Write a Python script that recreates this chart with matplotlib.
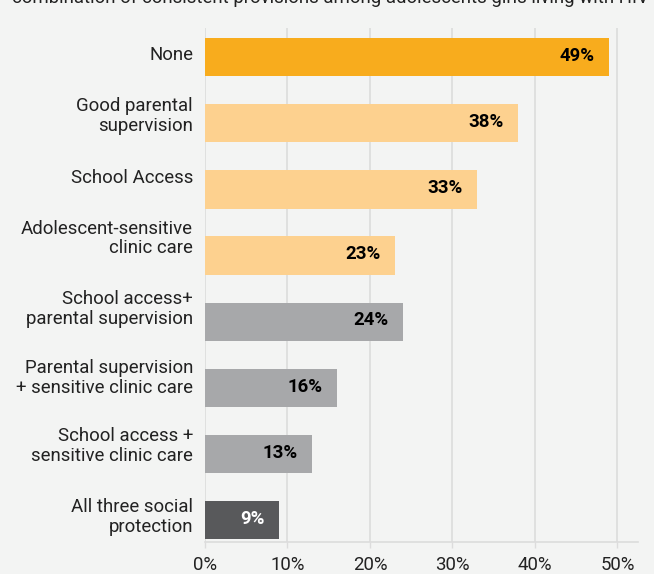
import matplotlib.pyplot as plt
from matplotlib.ticker import FuncFormatter
from matplotlib.transforms import offset_copy, blended_transform_factory

categories = [
    "None",
    "Good parental\nsupervision",
    "School Access",
    "Adolescent-sensitive\nclinic care",
    "School access+\nparental supervision",
    "Parental supervision\n+ sensitive clinic care",
    "School access +\nsensitive clinic care",
    "All three social\nprotection",
]
values = [49, 38, 33, 23, 24, 16, 13, 9]
groups = ["none", "single", "single", "single", "double", "double", "double", "triple"]
ticks = [0, 10, 20, 30, 40, 50]

# labels in the original sit a little above their bars (pixels)
label_lift = [2, 7, 11, 17, 13, 10, 8, 3]

colors = {"none": "#F8AC1D", "single": "#FDD18F", "double": "#A7A8AA", "triple": "#58595B"}
text_colors = {"none": "black", "single": "black", "double": "black", "triple": "white"}

bg = "#F3F4F3"
plt.rcParams["font.family"] = ["Roboto", "DejaVu Sans"]

fig = plt.figure(figsize=(6.54, 5.74), dpi=100, facecolor=bg)
ax = fig.add_axes([205 / 654, 32 / 574, 433 / 654, 514 / 574], facecolor=bg)

y = list(range(len(categories)))
ax.barh(y, values, height=0.58, color=[colors[g] for g in groups], zorder=3)

for yi, v, g in zip(y, values, groups):
    ax.text(v - 1.75, yi - 0.02, f"{v}%", ha="right", va="center", fontsize=13.4,
            fontweight="bold", color=text_colors[g], zorder=4)

# category labels
blend = blended_transform_factory(ax.transAxes, ax.transData)
for yi, lab, lift in zip(y, categories, label_lift):
    tr = offset_copy(blend, fig=fig, x=-12, y=lift, units="dots")
    ax.text(0, yi, lab, transform=tr, ha="right", va="center", fontsize=13.4,
            color="#222222", linespacing=1.12)

ax.set_xlim(0, 52.5)
ax.set_ylim(7.33, -0.44)
ax.set_yticks([])
ax.set_xticks(ticks)
ax.xaxis.set_major_formatter(FuncFormatter(lambda x, _: f"{x:.0f}%"))
ax.tick_params(axis="x", labelsize=13.4, colors="#222222", length=4.5, width=1,
               color="#DCDCDC", pad=5.5)

ax.grid(axis="x", color="#DCDCDC", linewidth=1.2, zorder=0)
for s in ["top", "right", "left"]:
    ax.spines[s].set_visible(False)
ax.spines["bottom"].set_color("#DCDCDC")
ax.spines["bottom"].set_linewidth(1.2)

fig.text(12 / 654, 1.003, "combination of consistent provisions among adolescents girls living with HIV",
         ha="left", va="center", fontsize=13.4, color="#222222")

fig.savefig("out.png", dpi=100, facecolor=bg)
